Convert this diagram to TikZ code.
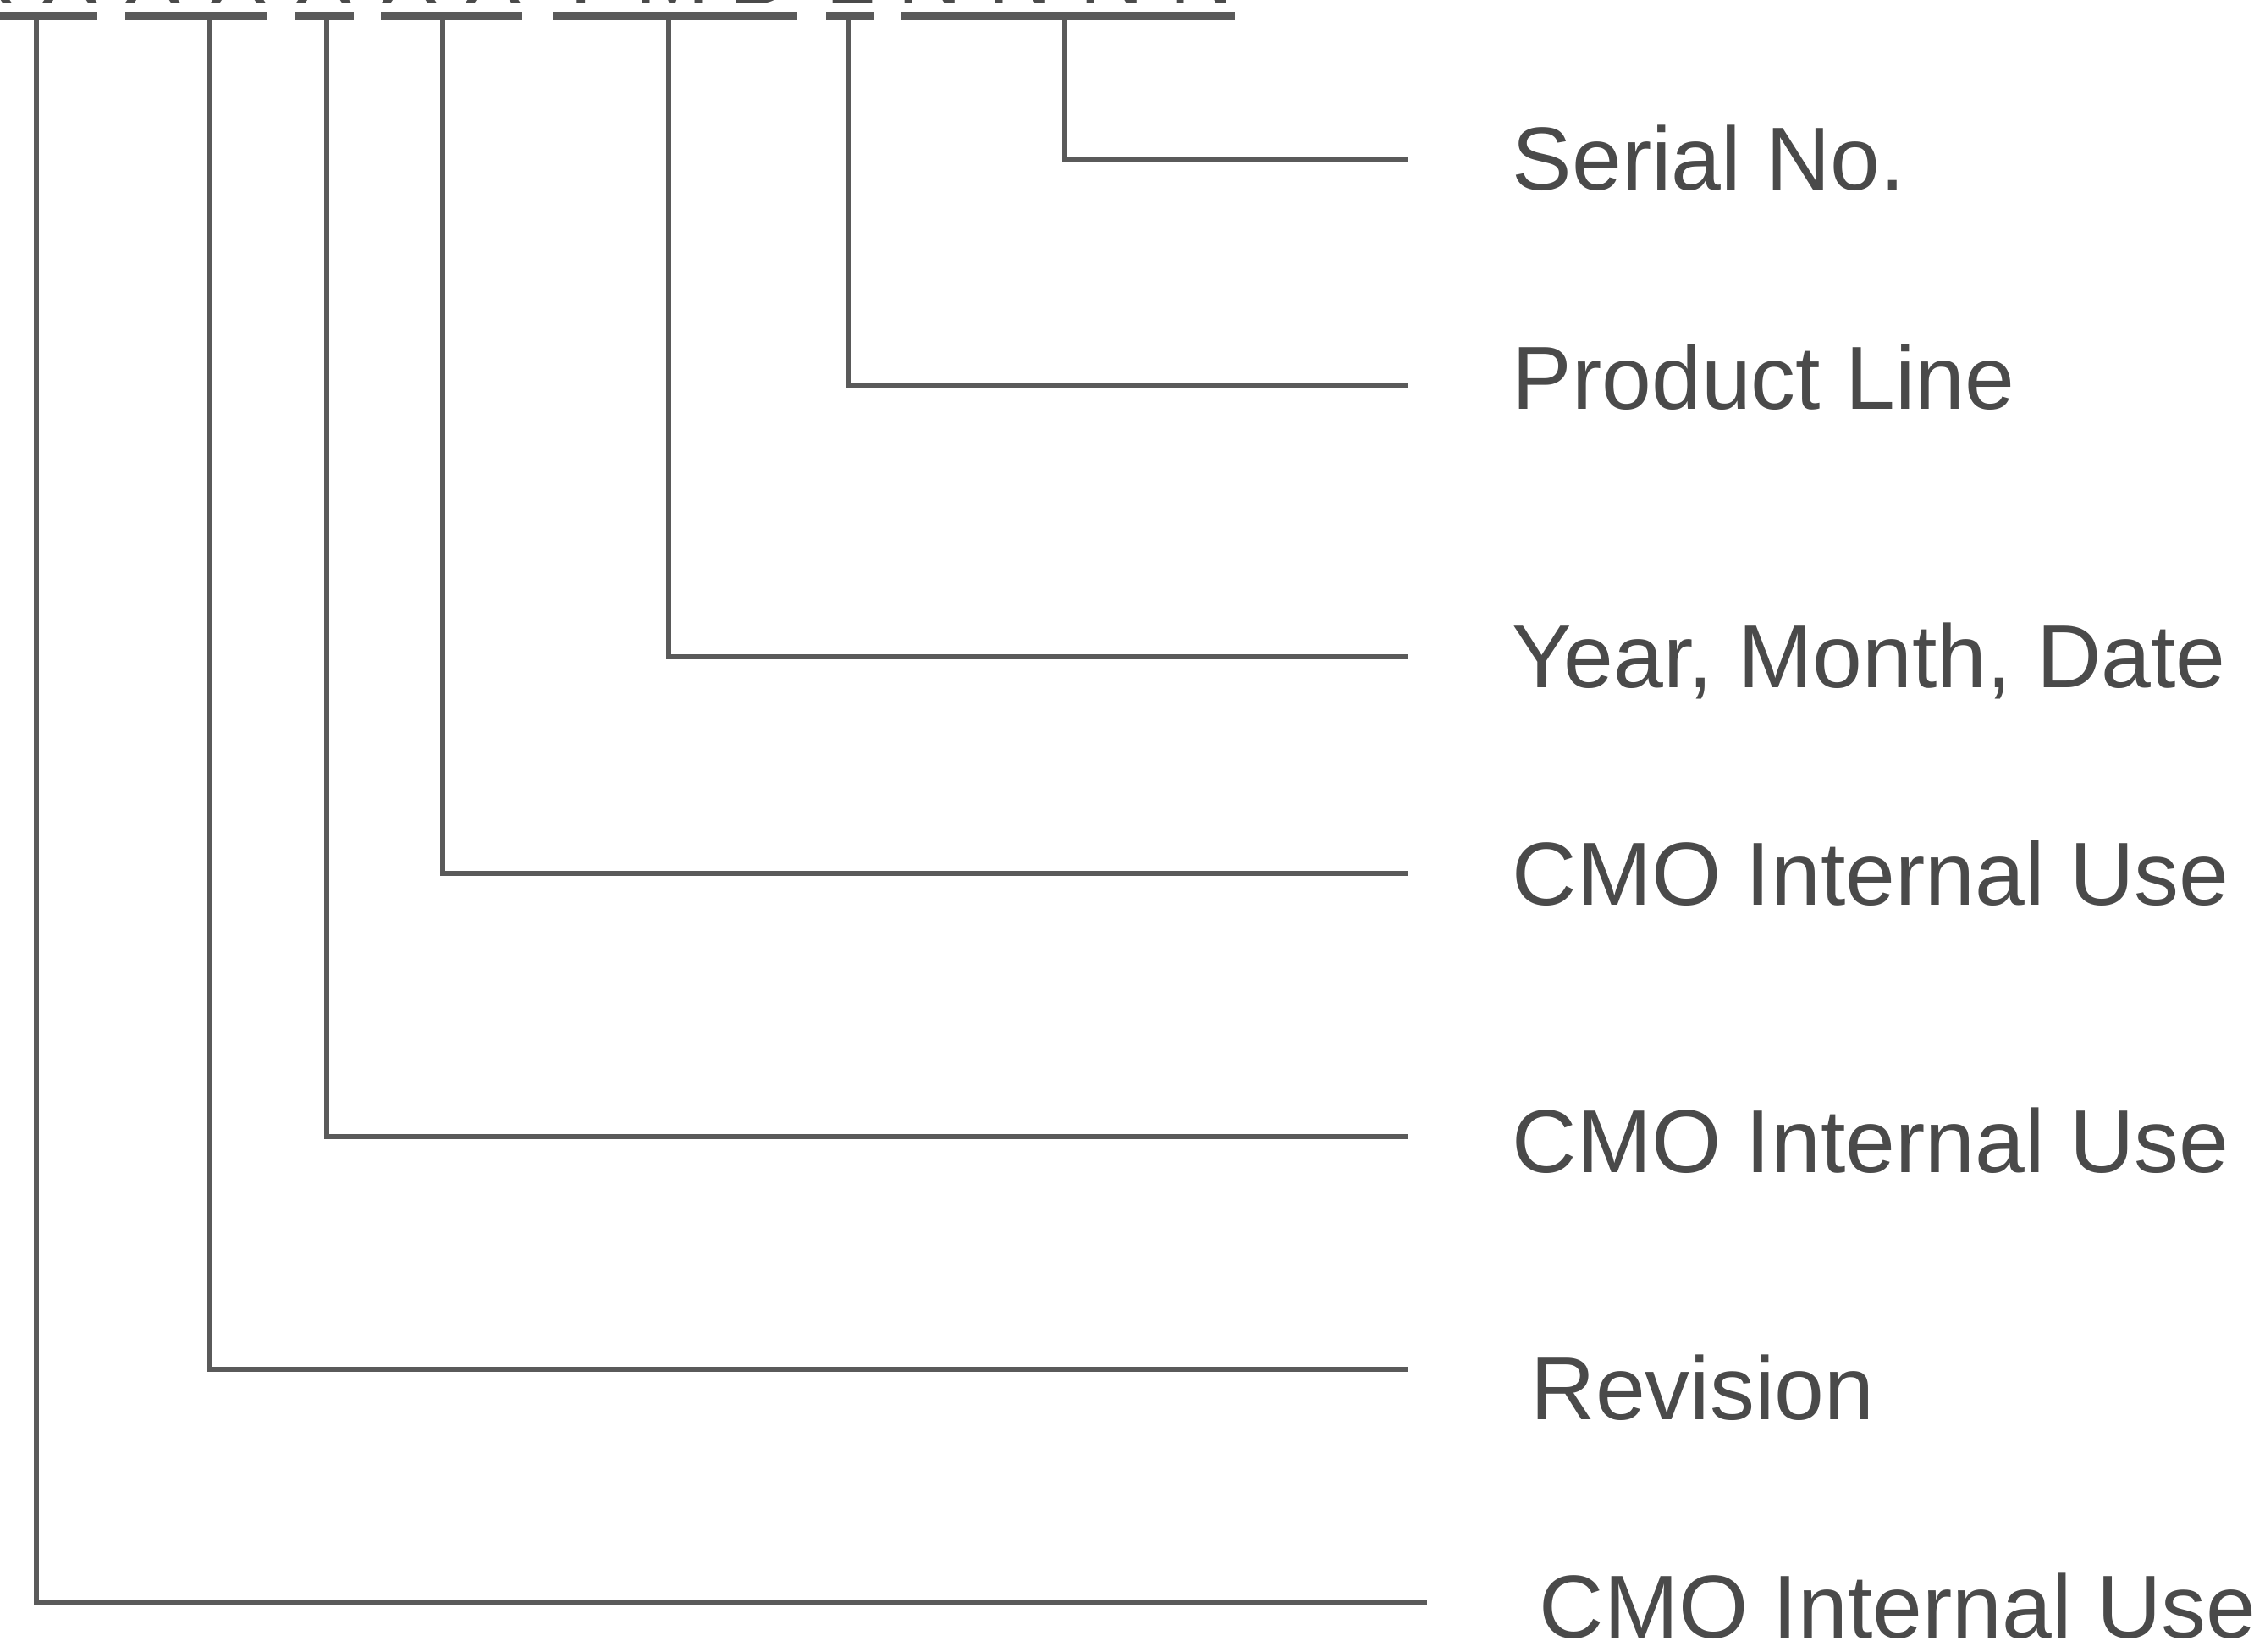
\documentclass[tikz,border=0pt]{standalone}
\usepackage{fontspec}
\setmainfont{Liberation Sans}
\definecolor{ln}{HTML}{5A5A5A}
\definecolor{tx}{HTML}{4A4A4A}
\begin{document}
\begin{tikzpicture}[x=1cm,y=1cm,
  lbl/.style={font=\fontsize{30.1}{34}\selectfont, text=tx, inner sep=0pt, anchor=base west},
  ch/.style={font=\fontsize{30.1}{34}\selectfont, text=tx, inner sep=0pt, anchor=base},
  tap/.style={draw=ln, line width=1.9pt},
  bar/.style={draw=ln, line width=2.6pt}]
\useasboundingbox (0,0) rectangle (26.76,-19.52);
\clip (0,0) rectangle (26.76,-19.52);

% cut-off code characters at the top edge
\foreach \x/\c [count=\i] in {-0.18/X,0.83/X,1.81/X,2.82/X,3.83/X,4.84/X,5.83/X,6.87/Y,7.95/M,9.00/D,10.05/L,10.99/N,12.06/N,13.14/N,14.20/N}
  \node[ch] (c\i) at (\x,-0.05) {\c};

% underlines of the code groups
\draw[bar] (0,-0.19) -- (1.15,-0.19);
\draw[bar] (1.48,-0.19) -- (3.16,-0.19);
\draw[bar] (3.49,-0.19) -- (4.18,-0.19);
\draw[bar] (4.50,-0.19) -- (6.17,-0.19);
\draw[bar] (6.53,-0.19) -- (9.42,-0.19);
\draw[bar] (9.76,-0.19) -- (10.33,-0.19);
\draw[bar] (10.64,-0.19) -- (14.59,-0.19);

% taps under the groups
\coordinate (t1) at (0.43,-0.19);
\coordinate (t2) at (2.47,-0.19);
\coordinate (t3) at (3.86,-0.19);
\coordinate (t4) at (5.23,-0.19);
\coordinate (t5) at (7.90,-0.19);
\coordinate (t6) at (10.03,-0.19);
\coordinate (t7) at (12.58,-0.19);

% line ends
\coordinate (e7) at (16.64,-1.89);
\coordinate (e6) at (16.64,-4.56);
\coordinate (e5) at (16.64,-7.76);
\coordinate (e4) at (16.64,-10.32);
\coordinate (e3) at (16.64,-13.43);
\coordinate (e2) at (16.64,-16.18);
\coordinate (e1) at (16.86,-18.94);

% labels
\node[lbl] (sn)   at (17.86,-2.25)  {Serial No.};
\node[lbl] (pl)   at (17.86,-4.84)  {Product Line};
\node[lbl] (ymd)  at (17.86,-8.12)  {Year, Month, Date};
\node[lbl] (cmo1) at (17.86,-10.69) {CMO Internal Use};
\node[lbl] (cmo2) at (17.86,-13.85) {CMO Internal Use};
\node[lbl] (rev)  at (18.08,-16.77) {Revision};
\node[lbl] (cmo3) at (18.18,-19.35) {CMO Internal Use};

% connectors
\draw[tap] (t7) |- (e7);
\draw[tap] (t6) |- (e6);
\draw[tap] (t5) |- (e5);
\draw[tap] (t4) |- (e4);
\draw[tap] (t3) |- (e3);
\draw[tap] (t2) |- (e2);
\draw[tap] (t1) |- (e1);
\end{tikzpicture}
\end{document}
